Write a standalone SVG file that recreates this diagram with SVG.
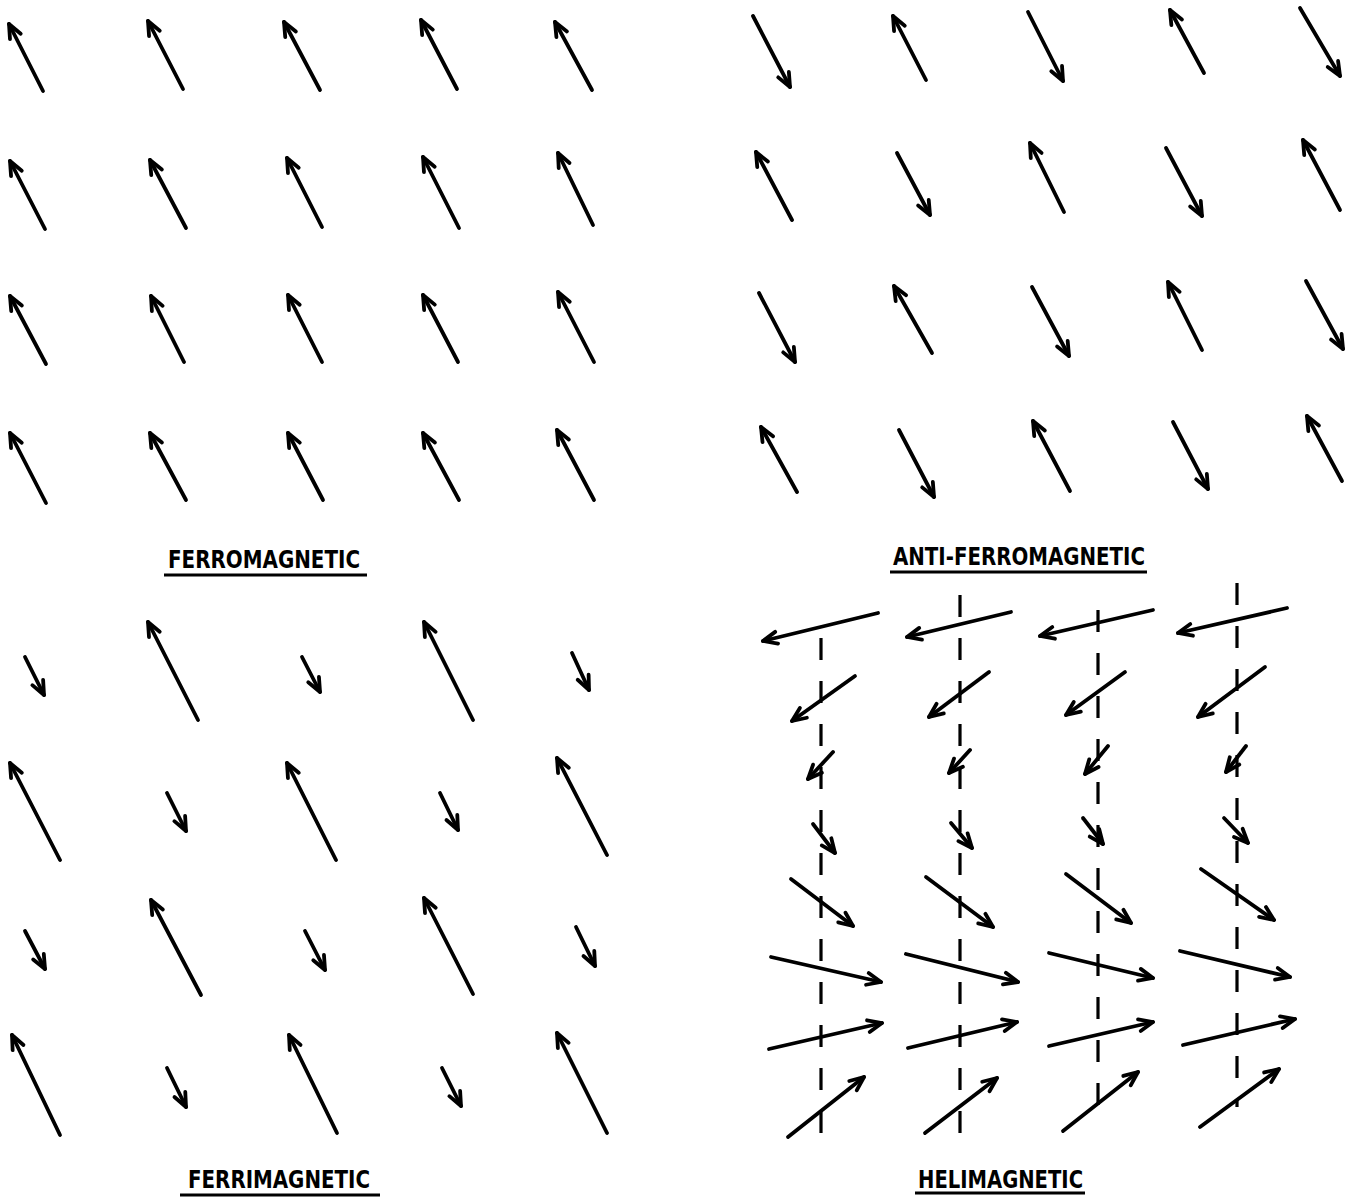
<svg xmlns="http://www.w3.org/2000/svg" width="1356" height="1201" viewBox="0 0 1356 1201">
<style>
.a{stroke:#000;stroke-width:3.8;stroke-linecap:round;fill:none;marker-end:url(#h)}
.ax{stroke:#000;stroke-width:3.2;fill:none;stroke-dasharray:22 21}
.t{font-family:"DejaVu Sans Condensed","Liberation Sans Narrow","Liberation Sans",sans-serif;font-weight:bold;font-size:25px;fill:#000}
.u{stroke:#000;stroke-width:2.8}
</style>
<defs>
<marker id="h" markerUnits="userSpaceOnUse" markerWidth="20" markerHeight="16" viewBox="-16 -8 20 16" refX="0" refY="0" orient="auto" overflow="visible">
<path d="M-14,-6 L0,0 L-14,6" fill="none" stroke="#000" stroke-width="3.8" stroke-linecap="round" stroke-linejoin="round"/>
</marker>
</defs>
<rect width="1356" height="1201" fill="#fff"/>
<g id="ferromagnetic">
<line class="a" x1="43" y1="91" x2="9" y2="24"/>
<line class="a" x1="183" y1="89" x2="148" y2="21"/>
<line class="a" x1="320" y1="90" x2="284" y2="22"/>
<line class="a" x1="457" y1="89" x2="421" y2="20"/>
<line class="a" x1="592" y1="90" x2="555" y2="22"/>
<line class="a" x1="45" y1="229" x2="10" y2="161"/>
<line class="a" x1="186" y1="228" x2="150" y2="160"/>
<line class="a" x1="322" y1="227" x2="287" y2="158"/>
<line class="a" x1="459" y1="228" x2="423" y2="157"/>
<line class="a" x1="593" y1="225" x2="558" y2="153"/>
<line class="a" x1="46" y1="364" x2="10" y2="296"/>
<line class="a" x1="184" y1="362" x2="151" y2="296"/>
<line class="a" x1="322" y1="362" x2="288" y2="295"/>
<line class="a" x1="458" y1="362" x2="423" y2="295"/>
<line class="a" x1="594" y1="362" x2="558" y2="292"/>
<line class="a" x1="46" y1="503" x2="10" y2="433"/>
<line class="a" x1="186" y1="500" x2="150" y2="433"/>
<line class="a" x1="323" y1="500" x2="288" y2="433"/>
<line class="a" x1="459" y1="500" x2="423" y2="433"/>
<line class="a" x1="594" y1="500" x2="557" y2="430"/>
<text class="t" x="168" y="568" textLength="192" lengthAdjust="spacingAndGlyphs">FERROMAGNETIC</text>
<line class="u" x1="164" y1="575" x2="367" y2="575"/>
</g>
<g id="antiferromagnetic">
<line class="a" x1="753" y1="16" x2="790" y2="87"/>
<line class="a" x1="926" y1="80" x2="893" y2="16"/>
<line class="a" x1="1028" y1="12" x2="1063" y2="81"/>
<line class="a" x1="1204" y1="73" x2="1170" y2="10"/>
<line class="a" x1="1300" y1="8" x2="1340" y2="76"/>
<line class="a" x1="792" y1="220" x2="756" y2="152"/>
<line class="a" x1="897" y1="153" x2="930" y2="215"/>
<line class="a" x1="1064" y1="212" x2="1030" y2="143"/>
<line class="a" x1="1166" y1="148" x2="1202" y2="216"/>
<line class="a" x1="1340" y1="210" x2="1303" y2="140"/>
<line class="a" x1="759" y1="293" x2="795" y2="362"/>
<line class="a" x1="932" y1="353" x2="894" y2="286"/>
<line class="a" x1="1032" y1="287" x2="1069" y2="356"/>
<line class="a" x1="1202" y1="350" x2="1168" y2="282"/>
<line class="a" x1="1306" y1="281" x2="1343" y2="349"/>
<line class="a" x1="797" y1="492" x2="761" y2="427"/>
<line class="a" x1="899" y1="430" x2="934" y2="497"/>
<line class="a" x1="1070" y1="491" x2="1033" y2="421"/>
<line class="a" x1="1173" y1="422" x2="1208" y2="489"/>
<line class="a" x1="1342" y1="481" x2="1307" y2="416"/>
<text class="t" x="893" y="565" textLength="252" lengthAdjust="spacingAndGlyphs">ANTI-FERROMAGNETIC</text>
<line class="u" x1="890" y1="572" x2="1147" y2="572"/>
</g>
<g id="ferrimagnetic">
<line class="a" x1="25" y1="657" x2="44" y2="695"/>
<line class="a" x1="198" y1="720" x2="148" y2="622"/>
<line class="a" x1="302" y1="657" x2="320" y2="692"/>
<line class="a" x1="473" y1="720" x2="424" y2="622"/>
<line class="a" x1="572" y1="653" x2="589" y2="690"/>
<line class="a" x1="60" y1="860" x2="10" y2="763"/>
<line class="a" x1="167" y1="793" x2="186" y2="831"/>
<line class="a" x1="336" y1="860" x2="287" y2="763"/>
<line class="a" x1="440" y1="793" x2="458" y2="830"/>
<line class="a" x1="607" y1="855" x2="557" y2="758"/>
<line class="a" x1="25" y1="931" x2="45" y2="969"/>
<line class="a" x1="201" y1="995" x2="151" y2="900"/>
<line class="a" x1="305" y1="931" x2="325" y2="970"/>
<line class="a" x1="473" y1="994" x2="424" y2="898"/>
<line class="a" x1="576" y1="927" x2="595" y2="966"/>
<line class="a" x1="60" y1="1135" x2="12" y2="1035"/>
<line class="a" x1="167" y1="1068" x2="186" y2="1107"/>
<line class="a" x1="337" y1="1133" x2="289" y2="1035"/>
<line class="a" x1="442" y1="1068" x2="461" y2="1106"/>
<line class="a" x1="607" y1="1133" x2="557" y2="1033"/>
<text class="t" x="188" y="1188" textLength="182" lengthAdjust="spacingAndGlyphs">FERRIMAGNETIC</text>
<line class="u" x1="180" y1="1195" x2="380" y2="1195"/>
</g>
<g id="helimagnetic">
<g id="axes">
<line class="ax" x1="821" y1="638" x2="821" y2="1142"/>
<line class="ax" x1="960" y1="595" x2="960" y2="1136"/>
<line class="ax" x1="1098" y1="610" x2="1098" y2="1120"/>
<line class="ax" x1="1237" y1="583" x2="1237" y2="1107"/>
</g>
<line class="a" x1="878" y1="613" x2="763" y2="641"/>
<line class="a" x1="855" y1="676" x2="792" y2="721"/>
<line class="a" x1="833" y1="752" x2="808" y2="779"/>
<line class="a" x1="813" y1="824" x2="835" y2="853"/>
<line class="a" x1="791" y1="879" x2="853" y2="926"/>
<line class="a" x1="771" y1="957" x2="881" y2="982"/>
<line class="a" x1="769" y1="1049" x2="882" y2="1023"/>
<line class="a" x1="788" y1="1137" x2="864" y2="1077"/>
<line class="a" x1="1011" y1="612" x2="907" y2="637"/>
<line class="a" x1="989" y1="672" x2="929" y2="717"/>
<line class="a" x1="970" y1="750" x2="949" y2="773"/>
<line class="a" x1="951" y1="823" x2="972" y2="848"/>
<line class="a" x1="926" y1="877" x2="993" y2="927"/>
<line class="a" x1="906" y1="954" x2="1018" y2="982"/>
<line class="a" x1="908" y1="1048" x2="1017" y2="1022"/>
<line class="a" x1="925" y1="1133" x2="997" y2="1078"/>
<line class="a" x1="1153" y1="610" x2="1040" y2="636"/>
<line class="a" x1="1125" y1="672" x2="1066" y2="715"/>
<line class="a" x1="1108" y1="746" x2="1085" y2="774"/>
<line class="a" x1="1083" y1="818" x2="1103" y2="844"/>
<line class="a" x1="1066" y1="874" x2="1131" y2="923"/>
<line class="a" x1="1049" y1="953" x2="1153" y2="978"/>
<line class="a" x1="1049" y1="1046" x2="1153" y2="1022"/>
<line class="a" x1="1063" y1="1131" x2="1138" y2="1072"/>
<line class="a" x1="1287" y1="608" x2="1178" y2="633"/>
<line class="a" x1="1265" y1="667" x2="1198" y2="717"/>
<line class="a" x1="1246" y1="746" x2="1226" y2="772"/>
<line class="a" x1="1224" y1="818" x2="1248" y2="843"/>
<line class="a" x1="1201" y1="869" x2="1274" y2="920"/>
<line class="a" x1="1180" y1="951" x2="1290" y2="977"/>
<line class="a" x1="1183" y1="1045" x2="1295" y2="1019"/>
<line class="a" x1="1200" y1="1127" x2="1279" y2="1069"/>
<text class="t" x="918" y="1188" textLength="165" lengthAdjust="spacingAndGlyphs">HELIMAGNETIC</text>
<line class="u" x1="915" y1="1193" x2="1085" y2="1193"/>
</g>
</svg>
